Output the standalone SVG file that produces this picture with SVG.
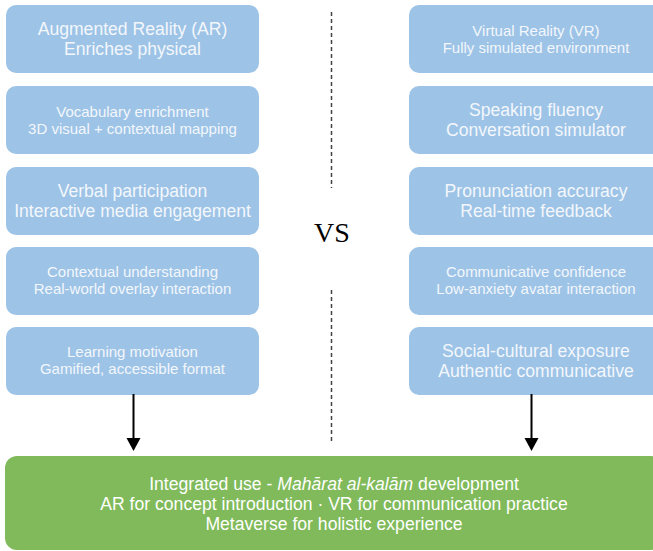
<svg xmlns="http://www.w3.org/2000/svg" width="653" height="551" viewBox="0 0 653 551">
<style>
.box{fill:#9dc3e6;}
.green{fill:#80ba5a;}
.t{font-family:"Liberation Sans",Arial,sans-serif;fill:#f3f7fc;text-anchor:middle;}
.big{font-size:17.6px;}
.sm{font-size:15px;}
.gt{font-family:"Liberation Sans",Arial,sans-serif;fill:#ffffff;text-anchor:middle;font-size:17.6px;}
.dash{stroke:#444;stroke-width:1.5;stroke-dasharray:4 3;fill:none;}
.arr{stroke:#000;stroke-width:2;fill:none;}
</style>
<rect width="653" height="551" fill="#ffffff"/>
<g id="divider">
<line class="dash" x1="331.5" y1="12" x2="331.5" y2="188"/>
<line class="dash" x1="331.5" y1="290" x2="331.5" y2="441"/>
<text x="332" y="242" font-family="Liberation Serif,'Times New Roman',serif" font-size="28" text-anchor="middle" fill="#000">VS</text>
</g>
<g id="ar-1"><rect class="box" x="6" y="5" width="253" height="68" rx="10"/>
<text class="t big" x="132.5" y="35">Augmented Reality (AR)</text><text class="t big" x="132.5" y="55">Enriches physical</text></g>
<g id="ar-2"><rect class="box" x="6" y="86" width="253" height="68" rx="10"/>
<text class="t sm" x="132.5" y="117">Vocabulary enrichment</text><text class="t sm" x="132.5" y="134">3D visual + contextual mapping</text></g>
<g id="ar-3"><rect class="box" x="6" y="167" width="253" height="68" rx="10"/>
<text class="t big" x="132.5" y="197">Verbal participation</text><text class="t big" x="132.5" y="217">Interactive media engagement</text></g>
<g id="ar-4"><rect class="box" x="6" y="247" width="253" height="68" rx="10"/>
<text class="t sm" x="132.5" y="277">Contextual understanding</text><text class="t sm" x="132.5" y="294">Real-world overlay interaction</text></g>
<g id="ar-5"><rect class="box" x="6" y="327" width="253" height="68" rx="10"/>
<text class="t sm" x="132.5" y="357">Learning motivation</text><text class="t sm" x="132.5" y="374">Gamified, accessible format</text></g>
<g id="vr-1"><rect class="box" x="409" y="5" width="254" height="68" rx="10"/>
<text class="t sm" x="536" y="36">Virtual Reality (VR)</text><text class="t sm" x="536" y="53">Fully simulated environment</text></g>
<g id="vr-2"><rect class="box" x="409" y="86" width="254" height="68" rx="10"/>
<text class="t big" x="536" y="116">Speaking fluency</text><text class="t big" x="536" y="136">Conversation simulator</text></g>
<g id="vr-3"><rect class="box" x="409" y="167" width="254" height="68" rx="10"/>
<text class="t big" x="536" y="197">Pronunciation accuracy</text><text class="t big" x="536" y="217">Real-time feedback</text></g>
<g id="vr-4"><rect class="box" x="409" y="247" width="254" height="68" rx="10"/>
<text class="t sm" x="536" y="277">Communicative confidence</text><text class="t sm" x="536" y="294">Low-anxiety avatar interaction</text></g>
<g id="vr-5"><rect class="box" x="409" y="327" width="254" height="68" rx="10"/>
<text class="t big" x="536" y="357">Social-cultural exposure</text><text class="t big" x="536" y="377">Authentic communicative</text></g>
<g id="integrated"><rect class="green" x="5" y="456" width="658" height="94" rx="12"/>
<text class="gt" x="334" y="490">Integrated use - <tspan font-style="italic">Mahārat al-kalām</tspan> development</text>
<text class="gt" x="334" y="510">AR for concept introduction · VR for communication practice</text>
<text class="gt" x="334" y="530">Metaverse for holistic experience</text></g>
<g id="connectors">
<line class="arr" x1="133.5" y1="394" x2="133.5" y2="440"/>
<polygon points="126.5,438 140.5,438 133.5,451" fill="#000"/>
<line class="arr" x1="531.5" y1="394" x2="531.5" y2="440"/>
<polygon points="524.5,438 538.5,438 531.5,451" fill="#000"/>
</g>
</svg>
